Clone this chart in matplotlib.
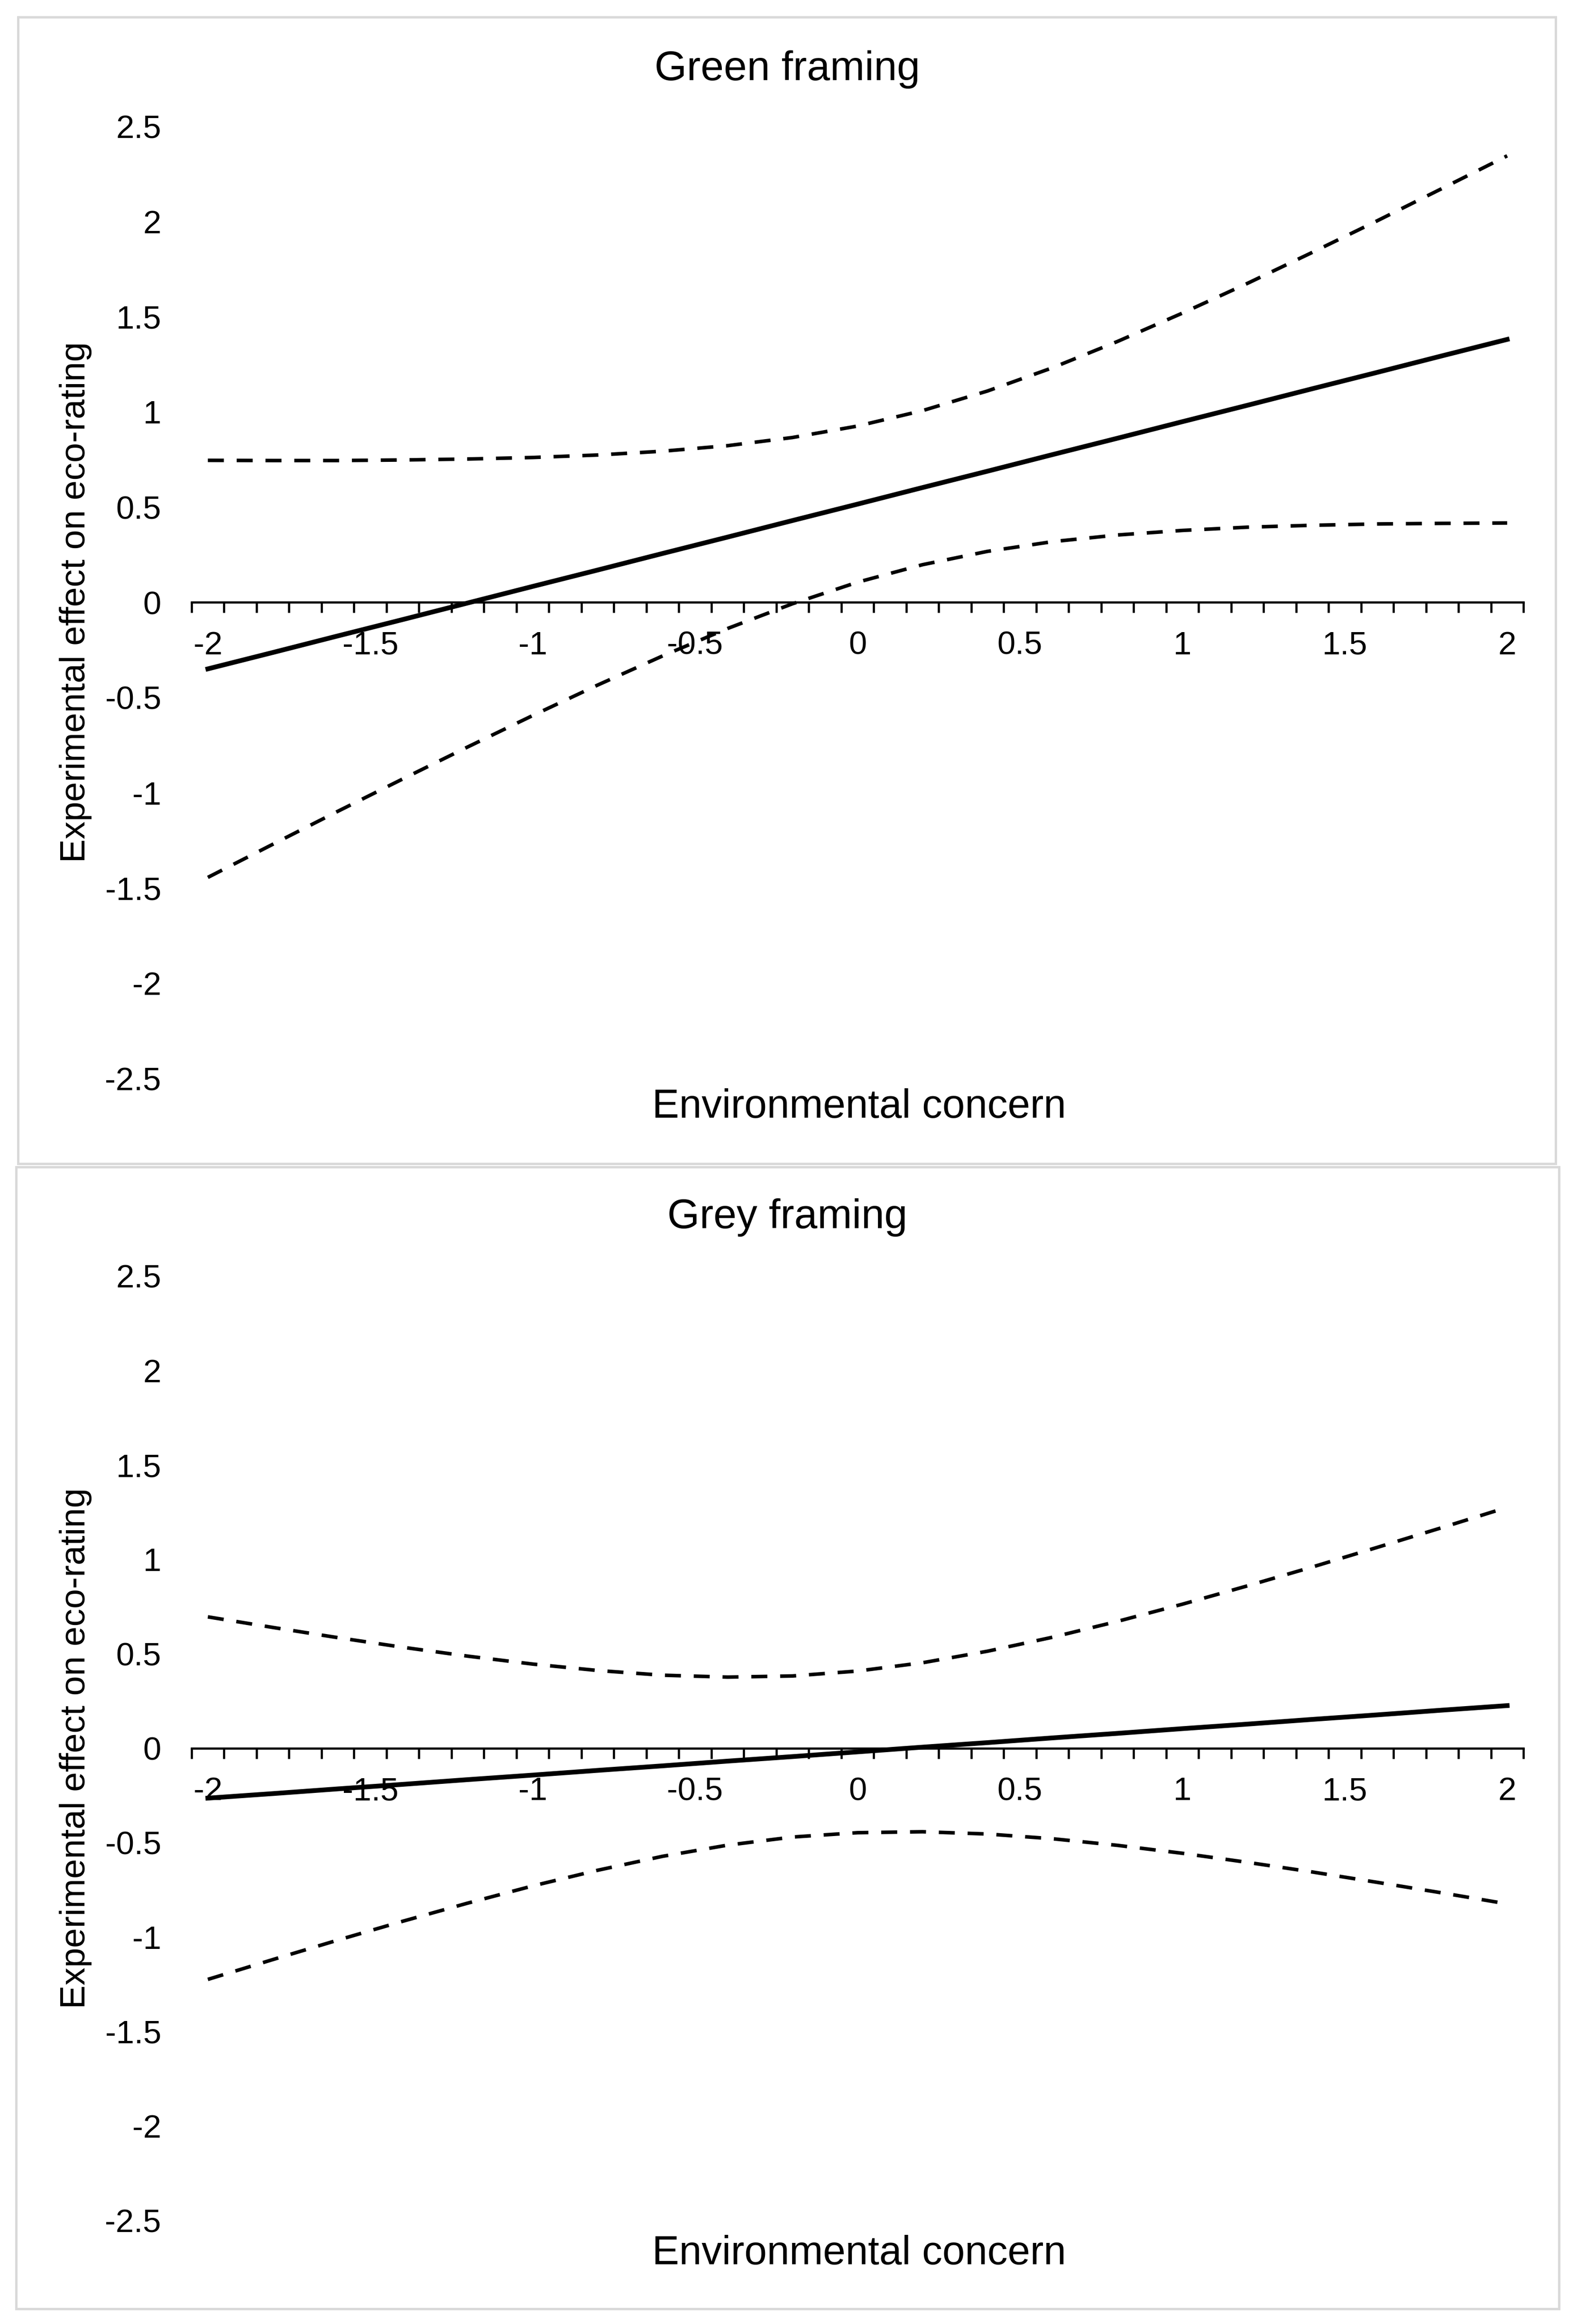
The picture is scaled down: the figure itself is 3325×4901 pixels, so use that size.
import matplotlib.pyplot as plt
from matplotlib.patches import Rectangle

W, H = 3325, 4901
DPI = 300

plt.rcParams["font.family"] = ["Liberation Sans", "DejaVu Sans"]

# environmental concern (standardised), one value every 0.2
x_vals = [-2.0, -1.8, -1.6, -1.4, -1.2, -1.0, -0.8, -0.6, -0.4, -0.2, 0.0,
          0.2, 0.4, 0.6, 0.8, 1.0, 1.2, 1.4, 1.6, 1.8, 2.0]

x_labelpos = [-2, -1.5, -1, -0.5, 0, 0.5, 1, 1.5, 2]
x_ticklabels = ["-2", "-1.5", "-1", "-0.5", "0", "0.5", "1", "1.5", "2"]
y_ticks = [2.5, 2, 1.5, 1, 0.5, 0, -0.5, -1, -1.5, -2, -2.5]
y_ticklabels = ["2.5", "2", "1.5", "1", "0.5", "0", "-0.5", "-1", "-1.5", "-2", "-2.5"]

# Green framing
green_mid = [-0.350, -0.264, -0.177, -0.091, -0.004, 0.083, 0.169, 0.256, 0.342, 0.429, 0.515,
             0.602, 0.688, 0.775, 0.861, 0.948, 1.034, 1.121, 1.207, 1.294, 1.380]
green_upper = [0.745, 0.744, 0.744, 0.747, 0.752, 0.760, 0.773, 0.793, 0.822, 0.865, 0.925,
               1.006, 1.109, 1.231, 1.369, 1.518, 1.674, 1.837, 2.003, 2.173, 2.344]
green_lower = [-1.445, -1.271, -1.098, -0.928, -0.760, -0.595, -0.435, -0.282, -0.138, -0.008, 0.105,
               0.197, 0.267, 0.318, 0.353, 0.377, 0.394, 0.404, 0.411, 0.414, 0.416]

# Grey framing
grey_mid = [-0.265, -0.241, -0.216, -0.192, -0.167, -0.143, -0.118, -0.094, -0.069, -0.045, -0.020,
            0.005, 0.029, 0.054, 0.078, 0.103, 0.127, 0.152, 0.176, 0.201, 0.225]
grey_upper = [0.695, 0.639, 0.585, 0.534, 0.487, 0.445, 0.411, 0.386, 0.376, 0.382, 0.408,
              0.452, 0.513, 0.587, 0.671, 0.762, 0.859, 0.959, 1.063, 1.168, 1.275]
grey_lower = [-1.225, -1.120, -1.017, -0.917, -0.821, -0.730, -0.647, -0.573, -0.514, -0.471, -0.448,
              -0.443, -0.455, -0.480, -0.515, -0.557, -0.605, -0.656, -0.711, -0.767, -0.825]


def fx(x):
    return x / W


def fy(y):
    return 1 - y / H


def drawPanel(fig, box, plotTop, plotBottom, title, titleY, xlabelY, mid, upper, lower):
    # light grey chart frame, kept behind the axes
    x0, y0, x1, y1 = box
    fig.patches.append(Rectangle((fx(x0), fy(y1)), fx(x1 - x0), (y1 - y0) / H,
                                 transform=fig.transFigure, facecolor="white",
                                 edgecolor="#d9d9d9", linewidth=1.2, zorder=-5))

    left, right = 404, 3212
    ax = fig.add_axes([fx(left), fy(plotBottom), fx(right - left), (plotBottom - plotTop) / H])
    ax.patch.set_visible(False)
    ax.set_zorder(2)

    dash = (0, (4.5, 3.6))
    ax.plot(x_vals, upper, color="black", lw=1.8, linestyle=dash)
    ax.plot(x_vals, lower, color="black", lw=1.8, linestyle=dash)
    ax.plot(x_vals, mid, color="black", lw=2.4, solid_joinstyle="round")

    ax.set_xlim(-2.05, 2.05)
    ax.set_ylim(-2.5, 2.5)
    for s in ["top", "right", "left"]:
        ax.spines[s].set_visible(False)
    ax.spines["bottom"].set_position(("data", 0))
    ax.spines["bottom"].set_linewidth(1.1)

    ax.set_xticks(x_labelpos)
    ax.set_xticklabels(x_ticklabels)
    ax.set_xticks([-2.05 + 0.1 * i for i in range(42)], minor=True)
    ax.tick_params(axis="x", which="major", length=0, pad=14.4, labelsize=16.5)
    ax.tick_params(axis="x", which="minor", length=5.3, width=1.1, direction="out")
    ax.set_yticks(y_ticks)
    ax.set_yticklabels(y_ticklabels)
    ax.tick_params(axis="y", length=0, pad=15.4, labelsize=16.5)

    fig.text(fx(1660), fy(titleY), title, ha="center", va="baseline", fontsize=21)
    fig.text(fx(1811), fy(xlabelY), "Environmental concern", ha="center",
             va="baseline", fontsize=20.5)
    fig.text(fx(160), fy((plotTop + plotBottom) / 2), "Experimental effect on eco-rating",
             rotation=90, ha="center", va="center", fontsize=18)
    return ax


if __name__ == "__main__":
    fig = plt.figure(figsize=(W / DPI, H / DPI), dpi=DPI)

    drawPanel(fig, (38, 36, 3280, 2454), 266, 2274, "Green framing", 169, 2357,
              green_mid, green_upper, green_lower)
    drawPanel(fig, (34, 2461, 3287, 4869), 2691, 4682, "Grey framing", 2590, 4775,
              grey_mid, grey_upper, grey_lower)

    fig.savefig("out.png", dpi=DPI)
